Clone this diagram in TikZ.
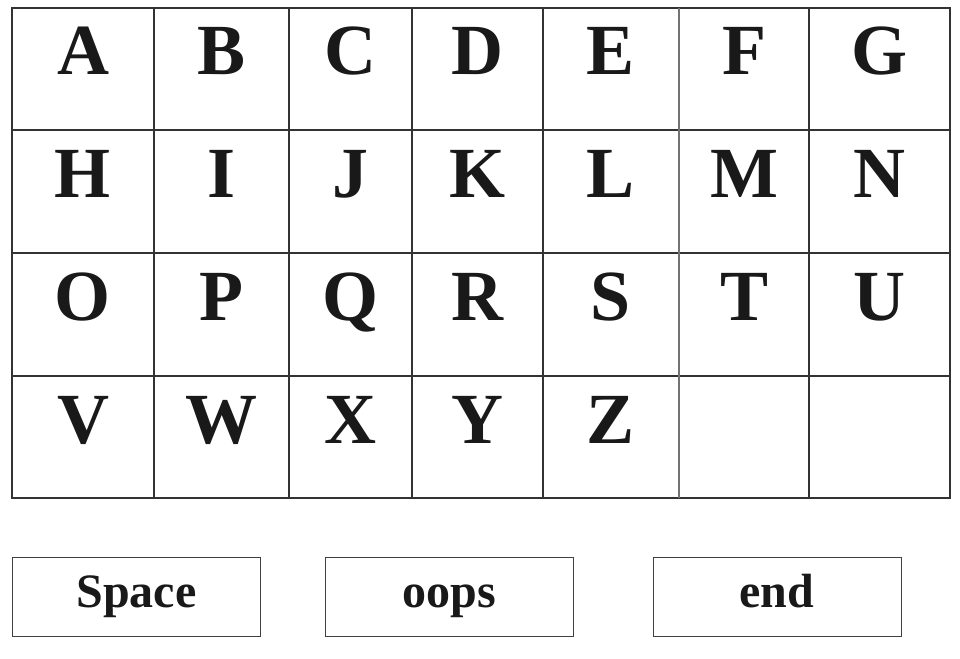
\documentclass[tikz,border=0pt]{standalone}
\usepackage{fontspec}
\setmainfont{Liberation Serif}

\tikzset{
  letter/.style={anchor=base, inner sep=0pt, font=\fontsize{72}{72}\selectfont\bfseries, text=black!90},
  button/.style={draw=black!75, line width=1pt, minimum width=248pt, minimum height=79pt,
    inner sep=0pt, text height=32pt, text depth=11pt, font=\fontsize{48}{48}\selectfont\bfseries, text=black!90},
  gridline/.style={draw=black!80, line width=1.1pt}
}

\begin{document}
\begin{tikzpicture}[x=1pt,y=-1pt]
\useasboundingbox (0,0) rectangle (960,658);

% the letter board
\draw[gridline] (12,8) rectangle (950,498);
\draw[gridline] (12,130) -- (950,130);
\draw[gridline] (12,253) -- (950,253);
\draw[gridline] (12,376) -- (950,376);
\draw[gridline] (154,8) -- (154,498);
\draw[gridline] (289,8) -- (289,498);
\draw[gridline] (412,8) -- (412,498);
\draw[gridline] (543,8) -- (543,498);
\draw[gridline, draw=black!55] (679,8) -- (679,498);
\draw[gridline] (809,8) -- (809,498);

\node[letter] (A) at (83,75)    {A};
\node[letter] (B) at (221.5,75) {B};
\node[letter] (C) at (350.5,75) {C};
\node[letter] (D) at (477.5,75) {D};
\node[letter] (E) at (611,75)   {E};
\node[letter] (F) at (744,75)   {F};
\node[letter] (G) at (879.5,75) {G};

\node[letter] (H) at (83,197)    {H};
\node[letter] (I) at (221.5,197) {I};
\node[letter] (J) at (350.5,197) {J};
\node[letter] (K) at (477.5,197) {K};
\node[letter] (L) at (611,197)   {L};
\node[letter] (M) at (744,197)   {M};
\node[letter] (N) at (879.5,197) {N};

\node[letter] (O) at (83,320)    {O};
\node[letter] (P) at (221.5,320) {P};
\node[letter] (Q) at (350.5,320) {Q};
\node[letter] (R) at (477.5,320) {R};
\node[letter] (S) at (611,320)   {S};
\node[letter] (T) at (744,320)   {T};
\node[letter] (U) at (879.5,320) {U};

\node[letter] (V) at (83,443)    {V};
\node[letter] (W) at (221.5,443) {W};
\node[letter] (X) at (350.5,443) {X};
\node[letter] (Y) at (477.5,443) {Y};
\node[letter] (Z) at (611,443)   {Z};

% the three keys below
\node[button] (space) at (136.5,596.5) {Space};
\node[button] (oops)  at (449,596.5)   {oops};
\node[button] (end)   at (777,596.5)   {end};
\end{tikzpicture}
\end{document}
